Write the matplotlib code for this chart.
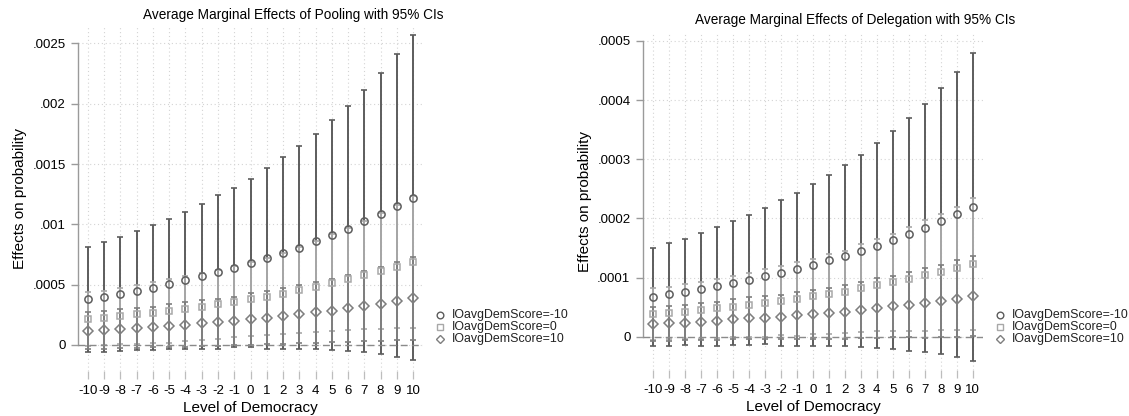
import matplotlib
matplotlib.use("Agg")
import matplotlib.pyplot as plt
from matplotlib.lines import Line2D

plt.rcParams['font.family'] = ['Liberation Sans', 'DejaVu Sans']

democracy = list(range(-10, 11))
series_labels = ["IOavgDemScore=-10", "IOavgDemScore=0", "IOavgDemScore=10"]

# Pooling panel
pool_m10 = [0.000379, 0.000400, 0.000423, 0.000450, 0.000475, 0.000506, 0.000536, 0.000570,
            0.000605, 0.000640, 0.000680, 0.000720, 0.000764, 0.000808, 0.000860, 0.000915,
            0.000964, 0.001025, 0.001090, 0.001150, 0.001220]
pool_m10_hi = [0.000815, 0.000857, 0.000898, 0.000945, 0.000995, 0.001047, 0.001105, 0.001170,
               0.001240, 0.001300, 0.001380, 0.001470, 0.001560, 0.001650, 0.001750, 0.001866,
               0.001980, 0.002114, 0.002256, 0.002410, 0.002570]
pool_m10_lo = [-0.000057, -0.000057, -0.000052, -0.000045, -0.000045, -0.000035, -0.000033, -0.000030,
               -0.000030, -0.000020, -0.000020, -0.000030, -0.000030, -0.000034, -0.000036, -0.000040,
               -0.000050, -0.000060, -0.000077, -0.000100, -0.000124]
pool_0 = [0.000216, 0.000224, 0.000238, 0.000254, 0.000268, 0.000285, 0.000301, 0.000318,
          0.000337, 0.000359, 0.000379, 0.000400, 0.000426, 0.000453, 0.000484, 0.000517,
          0.000547, 0.000578, 0.000614, 0.000650, 0.000688]
pool_0_hi = [0.000437, 0.000448, 0.000471, 0.000498, 0.000521, 0.000550, 0.000572, 0.000596,
             0.000624, 0.000656, 0.000686, 0.000720, 0.000764, 0.000809, 0.000863, 0.000919,
             0.000971, 0.001026, 0.001095, 0.001163, 0.001238]
pool_0_lo = [-0.000005, 0.0, 0.000005, 0.000010, 0.000015, 0.000020, 0.000030, 0.000040,
             0.000050, 0.000062, 0.000072, 0.000080, 0.000088, 0.000097, 0.000105, 0.000115,
             0.000123, 0.000130, 0.000133, 0.000137, 0.000138]
pool_p10 = [0.000119, 0.000124, 0.000135, 0.000141, 0.000149, 0.000160, 0.000169, 0.000180,
            0.000190, 0.000200, 0.000216, 0.000227, 0.000240, 0.000256, 0.000271, 0.000285,
            0.000304, 0.000323, 0.000343, 0.000362, 0.000387]
pool_p10_hi = [0.000273, 0.000278, 0.000298, 0.000307, 0.000318, 0.000338, 0.000353, 0.000370,
               0.000385, 0.000400, 0.000429, 0.000447, 0.000470, 0.000497, 0.000522, 0.000546,
               0.000580, 0.000614, 0.000650, 0.000684, 0.000729]
pool_p10_lo = [-0.000035, -0.000030, -0.000028, -0.000025, -0.000020, -0.000018, -0.000015, -0.000010,
               -0.000005, 0.0, 0.000003, 0.000007, 0.000010, 0.000015, 0.000020, 0.000024,
               0.000028, 0.000032, 0.000036, 0.000040, 0.000045]

# Delegation panel
dele_m10 = [0.0000676, 0.0000716, 0.0000760, 0.0000800, 0.0000856, 0.0000907, 0.0000958, 0.000102,
            0.000108, 0.000114, 0.000121, 0.000129, 0.000137, 0.000145, 0.000154, 0.000163,
            0.000173, 0.000184, 0.000195, 0.000207, 0.000219]
dele_m10_hi = [0.000150, 0.000159, 0.000166, 0.000176, 0.000186, 0.000195, 0.000206, 0.000217,
               0.000231, 0.000243, 0.000258, 0.000273, 0.000290, 0.000307, 0.000327, 0.000347,
               0.000370, 0.000394, 0.000420, 0.000448, 0.000479]
dele_m10_lo = [-0.000015, -0.000016, -0.000014, -0.000016, -0.000015, -0.000014, -0.000014, -0.000013,
               -0.000015, -0.000015, -0.000016, -0.000015, -0.000016, -0.000017, -0.0000186, -0.0000208,
               -0.0000236, -0.0000264, -0.0000298, -0.0000349, -0.0000405]
dele_0 = [0.0000378, 0.0000395, 0.0000422, 0.0000451, 0.0000480, 0.0000507, 0.0000535, 0.0000569,
          0.0000608, 0.0000637, 0.0000682, 0.0000721, 0.0000760, 0.0000823, 0.0000868, 0.0000918,
          0.0000975, 0.000104, 0.000109, 0.0001155, 0.000123]
dele_0_hi = [0.0000816, 0.0000835, 0.0000889, 0.0000932, 0.0000975, 0.0001024, 0.000108, 0.000114,
             0.0001194, 0.0001257, 0.000131, 0.000139, 0.000145, 0.0001564, 0.0001646, 0.000174,
             0.000185, 0.0001975, 0.000207, 0.0002195, 0.000234]
dele_0_lo = [-0.000006, -0.0000045, -0.0000045, -0.000003, -0.0000015, -0.000001, -0.000001, -0.0000002,
             0.0000022, 0.0000017, 0.0000054, 0.0000052, 0.000007, 0.0000082, 0.000009, 0.0000096,
             0.00001, 0.0000105, 0.000011, 0.0000115, 0.000012]
dele_p10 = [0.0000214, 0.0000226, 0.0000237, 0.0000254, 0.0000270, 0.0000293, 0.0000310, 0.0000321,
            0.0000338, 0.0000361, 0.0000378, 0.0000400, 0.0000422, 0.0000451, 0.0000485, 0.0000513,
            0.0000540, 0.0000569, 0.0000603, 0.0000642, 0.0000687]
dele_p10_hi = [0.0000498, 0.0000517, 0.0000534, 0.0000563, 0.0000590, 0.0000631, 0.0000665, 0.0000682,
               0.0000711, 0.0000752, 0.0000786, 0.0000830, 0.0000874, 0.0000930, 0.0000986, 0.000103,
               0.000109, 0.0001155, 0.000121, 0.0001296, 0.000136]
dele_p10_lo = [-0.000007, -0.0000065, -0.000006, -0.0000055, -0.000005, -0.0000045, -0.0000045, -0.000004,
               -0.0000035, -0.000003, -0.000003, -0.000003, -0.000003, -0.0000027, -0.0000016, -0.0000004,
               -0.0000001, -0.0000017, -0.0000004, -0.0000012, 0.0000014]

pool_yticks = [0, 0.0005, 0.001, 0.0015, 0.002, 0.0025]
pool_ylabels = ["0", ".0005", ".001", ".0015", ".002", ".0025"]
dele_yticks = [0, 0.0001, 0.0002, 0.0003, 0.0004, 0.0005]
dele_ylabels = ["0", ".0001", ".0002", ".0003", ".0004", ".0005"]

colors = ["#5c5c5c", "#a8a8a8", "#7e7e7e"]
markers = ["o", "s", "D"]
msizes = [5.2, 5.0, 4.6]
leg_sizes = [4.8, 4.6, 4.4]

W, H = 1129, 416


def draw_panel(ax, series, yticks, ylabels, ylim, xlim, title, title_x, title_y, leg_x):
    for i, (est, lo, hi) in enumerate(series):
        err = [[e - l for e, l in zip(est, lo)], [h - e for e, h in zip(est, hi)]]
        ax.errorbar(democracy, est, yerr=err, fmt="none", ecolor=colors[i],
                    elinewidth=1.4, capsize=2.3, capthick=1.2, zorder=2 + i)
    for i, (est, lo, hi) in enumerate(series):
        ax.plot(democracy, est, linestyle="none", marker=markers[i], markersize=msizes[i],
                markerfacecolor="none", markeredgecolor=colors[i], markeredgewidth=1.1,
                zorder=6)
    ax.axhline(0, color="#8a8a8a", linewidth=1.0, linestyle=(0, (5, 3)), zorder=7)

    ax.set_xlim(*xlim)
    ax.set_ylim(*ylim)
    ax.set_xticks(democracy)
    ax.set_xticklabels([str(d) for d in democracy], fontsize=9.5)
    ax.set_yticks(yticks)
    ax.set_yticklabels(ylabels, fontsize=9.5)
    ax.grid(True, color="#d4d4d4", linestyle=(0, (1, 2.5)), linewidth=0.8)
    ax.set_axisbelow(True)

    for s in ["top", "right", "bottom"]:
        ax.spines[s].set_visible(False)
    ax.spines["left"].set_color("#9a9a9a")
    ax.spines["left"].set_linewidth(1.0)
    ax.spines["left"].set_bounds(yticks[0], yticks[-1])
    ax.tick_params(axis="y", color="#9a9a9a", length=5, width=1.0, pad=4)
    ax.tick_params(axis="x", color="#bdbdbd", length=6, width=0.9, pad=4)

    ax.set_xlabel("Level of Democracy", fontsize=11, labelpad=3)
    ax.set_ylabel("Effects on probability", fontsize=11, labelpad=4)

    fig.text(title_x, title_y, title, ha="center", va="center", fontsize=9.8)

    # legend: marker + label rows to the right of the plot
    for i, lab in enumerate(series_labels):
        yy = 1 - (315 + 11.8 * i) / H
        fig.add_artist(Line2D([leg_x / W], [yy], transform=fig.transFigure,
                              marker=markers[i], markersize=leg_sizes[i], linestyle="none",
                              markerfacecolor="none", markeredgecolor=colors[i],
                              markeredgewidth=1.0))
        fig.text((leg_x + 12) / W, yy, lab, ha="left", va="center", fontsize=8.9,
                 color="#222222")


fig = plt.figure(figsize=(W / 100, H / 100), dpi=100)
ax1 = fig.add_axes([78 / W, 1 - 371 / H, 345 / W, 345 / H])
ax2 = fig.add_axes([643 / W, 1 - 370 / H, 340 / W, 338 / H])

draw_panel(ax1,
           [(pool_m10, pool_m10_lo, pool_m10_hi), (pool_0, pool_0_lo, pool_0_hi),
            (pool_p10, pool_p10_lo, pool_p10_hi)],
           pool_yticks, pool_ylabels, (-0.000216, 0.002645), (-10.615, 10.615),
           "Average Marginal Effects of Pooling with 95% CIs", 293 / W, 1 - 15 / H, 440)
draw_panel(ax2,
           [(dele_m10, dele_m10_lo, dele_m10_hi), (dele_0, dele_0_lo, dele_0_hi),
            (dele_p10, dele_p10_lo, dele_p10_hi)],
           dele_yticks, dele_ylabels, (-0.0000562, 0.000515), (-10.65, 10.65),
           "Average Marginal Effects of Delegation with 95% CIs", 855 / W, 1 - 20 / H, 1000)

fig.savefig("out.png", dpi=100)
